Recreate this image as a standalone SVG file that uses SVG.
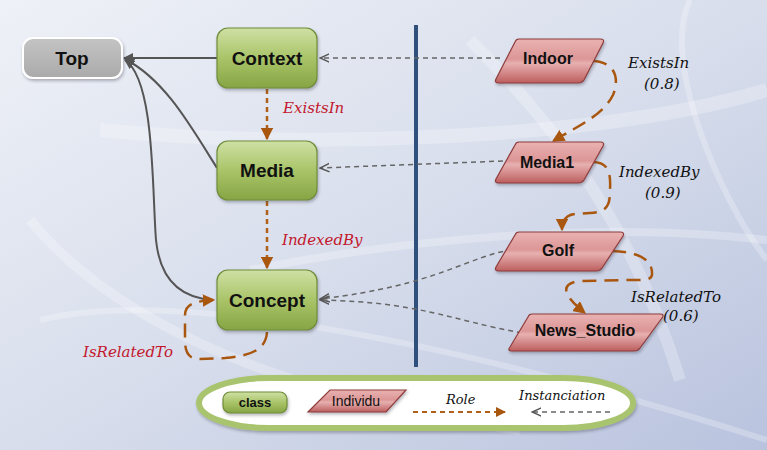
<svg xmlns="http://www.w3.org/2000/svg" width="767" height="450" viewBox="0 0 767 450">
<defs>
<linearGradient id="bg" x1="0" y1="0" x2="1" y2="1">
<stop offset="0" stop-color="#eef1f7"/><stop offset="0.5" stop-color="#d8deec"/><stop offset="1" stop-color="#b9c3de"/>
</linearGradient>
<linearGradient id="gGreen" x1="0" y1="0" x2="0" y2="1">
<stop offset="0" stop-color="#cfe0a4"/><stop offset="0.5" stop-color="#a9c468"/><stop offset="1" stop-color="#86a544"/>
</linearGradient>
<linearGradient id="gRed" x1="0" y1="0" x2="0" y2="1">
<stop offset="0" stop-color="#eab2b2"/><stop offset="0.45" stop-color="#dc9696"/><stop offset="0.55" stop-color="#e7b0b0"/><stop offset="1" stop-color="#bd5e5e"/>
</linearGradient>
<linearGradient id="gGrey" x1="0" y1="0" x2="0" y2="1">
<stop offset="0" stop-color="#c4c4c4"/><stop offset="1" stop-color="#aaaaaa"/>
</linearGradient>
<filter id="sh" x="-20%" y="-20%" width="140%" height="150%">
<feDropShadow dx="1" dy="2" stdDeviation="1.5" flood-color="#334" flood-opacity="0.35"/>
</filter>
<marker id="aGrey" viewBox="0 0 10 10" refX="9" refY="5" markerWidth="5" markerHeight="5" orient="auto">
<path d="M0,0 L10,5 L0,10 z" fill="#555"/>
</marker>
<marker id="aBrown" viewBox="0 0 10 10" refX="9" refY="5" markerWidth="5" markerHeight="5" orient="auto">
<path d="M0,0 L10,5 L0,10 z" fill="#a9560f"/>
</marker>
<marker id="aOpen" viewBox="0 0 10 10" refX="9" refY="5" markerWidth="7" markerHeight="7" orient="auto">
<path d="M0,1 L9,5 L0,9" fill="none" stroke="#555" stroke-width="1.4"/>
</marker>
</defs>
<style>
.cls{fill:url(#gGreen);stroke:#6f8c3a;stroke-width:1.2;filter:url(#sh)}
.ind{fill:url(#gRed);stroke:#8e3c3c;stroke-width:1.2;filter:url(#sh)}
.nt{font-family:"Liberation Sans",Arial,sans-serif;font-weight:bold;font-size:19px;fill:#111;text-anchor:middle}
.it{font-family:"Liberation Sans",Arial,sans-serif;font-weight:bold;font-size:16px;fill:#111;text-anchor:middle}
.rl{font-family:"DejaVu Serif","Liberation Serif",serif;font-style:italic;font-size:15px;fill:#c4172c}
.bl{font-family:"DejaVu Serif","Liberation Serif",serif;font-style:italic;font-size:15px;fill:#111}
.sub{stroke:#555;stroke-width:2;fill:none}
.inst{stroke:#666;stroke-width:1.5;fill:none;stroke-dasharray:5,4}
.role{stroke:#b0601a;stroke-width:2.5;fill:none;stroke-dasharray:5,4}
.rcur{stroke:#a9560f;stroke-width:2.5;fill:none;stroke-dasharray:14,8}
</style>
<rect width="767" height="450" fill="url(#bg)"/>
<g fill="none" stroke="#ffffff" stroke-opacity="0.25">
<path d="M30,220 C120,330 300,400 520,430" stroke-width="10"/>
<path d="M40,320 C160,290 420,330 767,440" stroke-width="6"/>
<path d="M100,130 C300,150 600,140 767,90" stroke-width="14"/>
<path d="M470,40 C580,150 640,250 680,380" stroke-width="12"/>
<path d="M250,270 C400,240 600,220 767,240" stroke-width="8"/>
<path d="M690,0 C660,60 720,200 767,260" stroke-width="6"/>
</g>
<line x1="416" y1="25" x2="416" y2="367" stroke="#2f4f7d" stroke-width="4"/>
<g id="connectors">
<path class="sub" d="M217,58 L124,58" marker-end="url(#aGrey)"/>
<path class="sub" d="M217,168 C190,125 165,80 125,59" marker-end="url(#aGrey)"/>
<path class="sub" d="M213,300 C180,298 160,280 156,240 C152,190 155,80 125,60" marker-end="url(#aGrey)"/>
<path class="inst" d="M500,58 L320,58" marker-end="url(#aOpen)"/>
<path class="inst" d="M503,161 L320,168" marker-end="url(#aOpen)"/>
<path class="inst" d="M512,250 C470,255 440,285 320,299" marker-end="url(#aOpen)"/>
<path class="inst" d="M522,333 C450,320 420,302 320,300" marker-end="url(#aOpen)"/>
<path class="role" d="M267,89 L267,139" marker-end="url(#aBrown)"/>
<path class="role" d="M267,201 L267,268" marker-end="url(#aBrown)"/>
<path class="rcur" d="M593,61 C615,62 620,78 613,95 C603,115 580,125 553,141" marker-end="url(#aBrown)"/>
<path class="rcur" d="M594,162 C608,163 611,172 610,190 C610,205 608,212 590,213 L575,214 C565,215 562,222 562,230" marker-end="url(#aBrown)"/>
<path class="rcur" d="M612,251 C640,252 653,260 652,275 C651,280 645,280 630,280 L580,281 C560,283 562,295 585,313" marker-end="url(#aBrown)"/>
<path class="rcur" d="M267,332 C266,350 250,356 225,358 L200,359 C188,359 185,352 185,340 L185,315 C185,305 193,301 214,300" marker-end="url(#aBrown)"/>
</g>
<g id="node-top">
<rect x="23" y="38" width="99" height="40" rx="10" fill="url(#gGrey)" stroke="#ffffff" stroke-width="2" filter="url(#sh)"/>
<text class="nt" x="72" y="65">Top</text>
</g>
<g id="node-context">
<rect class="cls" x="217" y="28" width="100" height="60" rx="11"/>
<text class="nt" x="267" y="65">Context</text>
</g>
<g id="node-media">
<rect class="cls" x="217" y="141" width="100" height="59" rx="11"/>
<text class="nt" x="267" y="177">Media</text>
</g>
<g id="node-concept">
<rect class="cls" x="217" y="270" width="100" height="60" rx="11"/>
<text class="nt" x="267" y="307">Concept</text>
</g>
<g id="node-indoor">
<path class="ind" d="M519,39 L600,39 Q605,39 603,43 L584,80 Q582,83 578,83 L499,83 Q494,83 496,79 L515,42 Q516,39 519,39 z"/>
<text class="it" x="548" y="64">Indoor</text>
</g>
<g id="node-media1">
<path class="ind" d="M519,142 L600,142 Q605,142 603,146 L584,180 Q582,183 578,183 L499,183 Q494,183 496,179 L515,145 Q516,142 519,142 z"/>
<text class="it" x="547" y="168">Media1</text>
</g>
<g id="node-golf">
<path class="ind" d="M519,232 L620,232 Q625,232 623,236 L602,268 Q600,271 596,271 L499,271 Q494,271 496,267 L515,235 Q516,232 519,232 z"/>
<text class="it" x="558" y="256">Golf</text>
</g>
<g id="node-news-studio">
<path class="ind" d="M532,314 L660,314 Q665,314 662,318 L640,348 Q638,351 634,351 L512,351 Q507,351 510,347 L528,317 Q529,314 532,314 z"/>
<text class="it" x="585" y="336">News_Studio</text>
</g>
<g id="labels">
<text class="rl" x="283" y="113">ExistsIn</text>
<text class="rl" x="282" y="245">IndexedBy</text>
<text class="rl" x="83" y="357">IsRelatedTo</text>
<text class="bl" x="628" y="68">ExistsIn</text>
<text class="bl" x="644" y="89">(0.8)</text>
<text class="bl" x="619" y="177">IndexedBy</text>
<text class="bl" x="645" y="198">(0.9)</text>
<text class="bl" x="631" y="302">IsRelatedTo</text>
<text class="bl" x="663" y="321">(0.6)</text>
</g>
<g id="legend">
<rect x="199" y="378" width="434" height="50" rx="70" ry="25" fill="#ffffff" stroke="#a9c46e" stroke-width="6" filter="url(#sh)"/>
<rect class="cls" x="223" y="392" width="64" height="21" rx="7"/>
<text class="it" x="255" y="407" style="font-size:13px">class</text>
<path class="ind" d="M330,390 L406,390 L386,412 L308,412 z"/>
<text class="it" x="356" y="406" style="font-weight:normal;font-size:14px">Individu</text>
<text class="bl" x="446" y="404" style="font-size:13px">Role</text>
<path class="role" d="M413,412 L505,412" marker-end="url(#aBrown)" style="stroke-width:2"/>
<text class="bl" x="519" y="400" style="font-size:13px">Instanciation</text>
<path class="inst" d="M610,412 L532,412" marker-end="url(#aOpen)"/>
</g>
</svg>
